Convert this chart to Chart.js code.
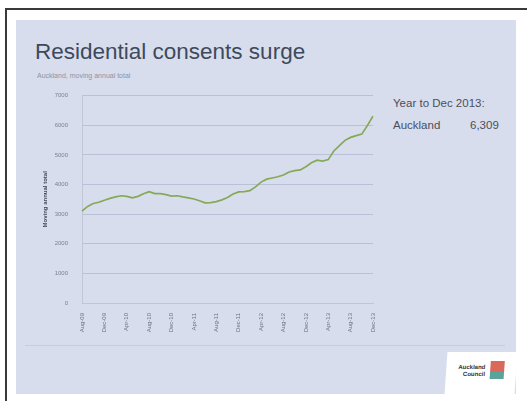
<!DOCTYPE html>
<html>
<head>
<meta charset="utf-8">
<script src="https://cdn.jsdelivr.net/npm/chart.js@4.4.1/dist/chart.umd.min.js"></script>
<style>
  body { margin: 0; width: 527px; height: 401px; background: #fff; position: relative; overflow: hidden; font-family: "Liberation Sans", Arial, sans-serif; }
  #frame { position: absolute; left: 5px; top: 8px; width: 530px; height: 400px; border-left: 2px solid #3a3a3a; border-top: 2px solid #3a3a3a; }
  #panel { position: absolute; left: 16px; top: 20px; width: 500px; height: 374px; background: #d8ddee; }
  #title { position: absolute; left: 35px; top: 39px; font-size: 22.5px; color: #3d4a5c; white-space: nowrap; }
  #sub { position: absolute; left: 37px; top: 72px; font-size: 7px; color: #8c93a3; }
  .side { position: absolute; font-size: 11.5px; color: #4a4f5a; white-space: nowrap; }
  #sep { position: absolute; left: 25px; top: 345px; width: 480px; height: 1px; background: #c6cce0; }
  #logo { position: absolute; left: 446px; top: 352px; width: 70px; height: 42px; background: #fff; transform: skewX(-4deg); }
  #logo .t { position: absolute; left: 12px; top: 12px; font-size: 6px; font-weight: bold; color: #333; line-height: 7px; text-align: right; }
  #logo .i { position: absolute; left: 44px; top: 9px; width: 14px; height: 18px; background: linear-gradient(#d9695a 0 60%, #5aa39a 60% 100%); }
  #wrap { position: absolute; left: 40px; top: 78px; width: 345px; height: 262px; }
</style>
</head>
<body>
<div id="frame"></div>
<div id="panel"></div>
<div id="title">Residential consents surge</div>
<div id="sub">Auckland, moving annual total</div>
<div class="side" style="left:393px; top:97px;">Year to Dec 2013:</div>
<div class="side" style="left:393px; top:119px;">Auckland</div>
<div class="side" style="left:470px; top:119px;">6,309</div>
<div id="sep"></div>
<div id="logo"><div class="t">Auckland<br>Council</div><div class="i"></div></div>
<div id="wrap"><canvas id="myChart"></canvas></div>
<script>
const months = ['Jan', 'Feb', 'Mar', 'Apr', 'May', 'Jun', 'Jul', 'Aug', 'Sep', 'Oct', 'Nov', 'Dec'];
// Aug-09 .. Dec-13, monthly
const labels = [];
for (let i = 0; i < 53; i++) {
    const m = (7 + i) % 12;
    const y = 9 + Math.floor((7 + i) / 12);
    labels.push(months[m] + '-' + String(y).padStart(2, '0'));
}
const consents = [
    3100, 3260, 3360, 3400, 3470, 3530, 3580, 3620, 3600, 3550,
    3600, 3690, 3760, 3690, 3690, 3660, 3610, 3620, 3580, 3550,
    3510, 3450, 3380, 3390, 3420, 3480, 3560, 3680, 3750, 3760,
    3790, 3920, 4080, 4180, 4220, 4260, 4320, 4420, 4470, 4490,
    4600, 4730, 4820, 4790, 4840, 5130, 5310, 5490, 5590, 5650,
    5700, 5990, 6309
];
const yTicks = [0, 1000, 2000, 3000, 4000, 5000, 6000, 7000];

let ctx = document.getElementById('myChart').getContext('2d');
let myChart = new Chart(ctx, {
    type: 'line',
    data: {
        labels: labels,
        datasets: [{
            label: 'Auckland',
            data: consents,
            borderColor: '#86a956',
            borderWidth: 1.7,
            pointRadius: 0,
            tension: 0
        }]
    },
    options: {
        responsive: true,
        maintainAspectRatio: false,
        animation: false,
        layout: { padding: { top: 0, right: 12, left: 0, bottom: 0 } },
        plugins: { legend: { display: false }, tooltip: { enabled: false } },
        scales: {
            x: {
                grid: { display: false },
                border: { color: '#c0c6d8' },
                ticks: {
                    autoSkip: false,
                    maxRotation: 90,
                    minRotation: 90,
                    color: '#6a7080',
                    font: { size: 6, family: 'Liberation Sans' },
                    padding: 2,
                    callback: function (v, i) { return i % 4 === 0 ? labels[i] : ''; }
                },
                afterFit: function (s) { s.height = 37; }
            },
            y: {
                min: 0,
                max: 7000,
                afterBuildTicks: function (s) { s.ticks = yTicks.map(v => ({ value: v })); },
                grid: { color: '#b9c1d8', lineWidth: 1, drawTicks: false },
                border: { color: '#c0c6d8' },
                ticks: {
                    color: '#7a8090',
                    font: { size: 6, family: 'Liberation Sans' },
                    padding: 14,
                    callback: function (v) { return String(v); }
                },
                title: {
                    display: true,
                    text: 'Moving annual total',
                    color: '#444a58',
                    font: { size: 6, weight: 'bold', family: 'Liberation Sans' },
                    padding: 2
                },
                afterFit: function (s) { s.width = 42; }
            }
        }
    }
});
</script>
</body>
</html>
